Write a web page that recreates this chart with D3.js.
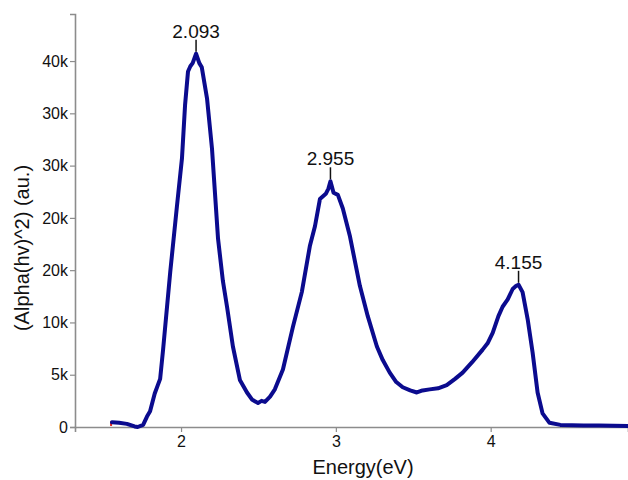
<!DOCTYPE html>
<html>
<head>
<meta charset="utf-8">
<script src="https://cdn.jsdelivr.net/npm/d3@7"></script>
<style>
  html, body { margin: 0; padding: 0; background: #fff; }
  svg { display: block; font-family: "Liberation Sans", Arial, sans-serif; }
</style>
</head>
<body>
<svg id="chart" width="628" height="480"></svg>
<script>
// Energy (eV) values of the trace
const energy = [
  1.554, 1.60, 1.65, 1.70, 1.72, 1.755, 1.78, 1.80, 1.83, 1.85, 1.865, 1.884,
  1.93, 1.974, 2.006, 2.026, 2.045, 2.060, 2.075, 2.097, 2.118, 2.134, 2.168,
  2.20, 2.239, 2.27, 2.297, 2.335, 2.38, 2.426, 2.46, 2.497, 2.52, 2.542, 2.575,
  2.606, 2.658, 2.723, 2.78, 2.832, 2.865, 2.897, 2.935, 2.952, 2.965, 2.985,
  3.013, 3.045, 3.09, 3.155, 3.206, 3.265, 3.303, 3.348, 3.39, 3.432, 3.48,
  3.523, 3.56, 3.606, 3.66, 3.716, 3.77, 3.819, 3.88, 3.948, 3.98, 4.013, 4.05,
  4.077, 4.11, 4.142, 4.165, 4.18, 4.206, 4.239, 4.271, 4.303, 4.335, 4.38,
  4.45, 4.6, 4.7, 4.887
];
// (Alpha(hv)^2) in thousands (au.)
const absorbance = [
  0.45, 0.4, 0.3, 0.05, 0.0, 0.2, 1.0, 1.5, 3.2, 4.0, 4.6, 7.4,
  14.8, 21.2, 25.7, 30.8, 34.0, 34.5, 34.8, 35.7, 34.8, 34.4, 31.4,
  26.6, 18.0, 14.0, 11.5, 7.7, 4.5, 3.3, 2.6, 2.3, 2.5, 2.4, 2.9,
  3.6, 5.5, 9.6, 12.9, 17.3, 19.2, 21.8, 22.3, 22.8, 23.5, 22.4,
  22.2, 20.9, 18.3, 13.5, 10.6, 7.7, 6.4, 5.2, 4.3, 3.8, 3.5,
  3.3, 3.5, 3.6, 3.7, 4.0, 4.6, 5.2, 6.2, 7.4, 8.0, 9.0, 10.6,
  11.5, 12.2, 13.2, 13.5, 13.6, 12.9, 10.3, 7.1, 3.3, 1.3, 0.4,
  0.2, 0.15, 0.15, 0.1
];
// small red start marker series
const redEnergy = [1.548, 1.548];
const redValue = [0.1, 0.55];

// Peak annotations
const peakEnergy = [2.097, 2.965, 4.18];
const peakValue = [35.7, 23.5, 13.6];
const peakLabels = ["2.093", "2.955", "4.155"];

// Axis ticks
const xTicks = [2, 3, 4];
const yTicks = [0, 5, 10, 15, 20, 25, 30, 35];
const yTickLabels = ["0", "5k", "10k", "20k", "20k", "30k", "30k", "40k"];

const svg = d3.select("#chart");
const x = d3.scaleLinear().domain([1.315, 4.887]).range([75, 628]);
const y = d3.scaleLinear().domain([0, 39.5]).range([427, 14]);

const axisColor = "#8c8c8c";

// Axes
const gx = svg.append("g").attr("transform", "translate(0,427)")
  .call(d3.axisBottom(x).tickValues(xTicks).tickSize(5).tickPadding(4).tickFormat(d3.format("d")));
const gy = svg.append("g").attr("transform", "translate(75,0)")
  .call(d3.axisLeft(y).tickValues(yTicks).tickSize(5).tickPadding(2)
    .tickFormat((d, i) => yTickLabels[i]));

[gx, gy].forEach(g => {
  g.select(".domain").attr("stroke", axisColor).attr("stroke-width", 1.6);
  g.selectAll(".tick line").attr("stroke", axisColor).attr("stroke-width", 1.2);
  g.selectAll(".tick text").attr("fill", "#111").style("font-size", "16px")
    .style("font-family", "'Liberation Sans', Arial, sans-serif");
});

// Axis titles
svg.append("text")
  .attr("x", 363).attr("y", 474)
  .attr("text-anchor", "middle")
  .style("font-size", "20px").attr("fill", "#111")
  .text("Energy(eV)");
svg.append("text")
  .attr("transform", "translate(29,248) rotate(-90)")
  .attr("text-anchor", "middle")
  .style("font-size", "20px").attr("fill", "#111")
  .text("(Alpha(hv)^2) (au.)");

// Red marker
const line = d3.line().x(d => x(d[0])).y(d => y(d[1]));
svg.append("path")
  .datum(redEnergy.map((e, i) => [e, redValue[i]]))
  .attr("d", line)
  .attr("fill", "none").attr("stroke", "#e0201c").attr("stroke-width", 2);

// Main curve
svg.append("path")
  .datum(energy.map((e, i) => [e, absorbance[i]]))
  .attr("d", line)
  .attr("fill", "none")
  .attr("stroke", "#0b0b8e")
  .attr("stroke-width", 4)
  .attr("stroke-linejoin", "round")
  .attr("stroke-linecap", "round");

// Peak markers and labels
peakEnergy.forEach((e, i) => {
  const px = x(e), py = y(peakValue[i]) - 2;
  svg.append("line")
    .attr("x1", px).attr("x2", px)
    .attr("y1", py).attr("y2", py - 12)
    .attr("stroke", "#111").attr("stroke-width", 1.5);
  svg.append("text")
    .attr("x", px).attr("y", py - 14)
    .attr("text-anchor", "middle")
    .style("font-size", "19px").attr("fill", "#111")
    .text(peakLabels[i]);
});
</script>
</body>
</html>
